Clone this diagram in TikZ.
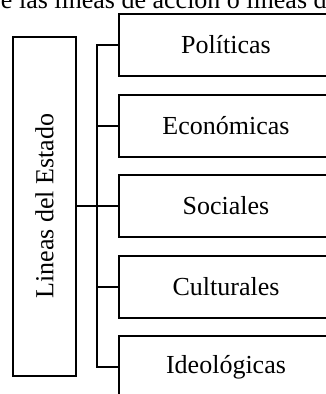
\documentclass[tikz,border=0pt]{standalone}
\usepackage{fontspec}
\setmainfont{Liberation Serif}
\usetikzlibrary{positioning, calc}

\tikzset{
  linea/.style = {draw, line width=2pt, inner sep=0pt, outer sep=0pt,
    minimum width=214pt, minimum height=62pt},
}

\begin{document}
\begin{tikzpicture}[x=1pt, y=1pt, line width=2pt,
  font=\fontsize{26pt}{31pt}\selectfont, node distance=18.5pt]

\useasboundingbox (0,0) rectangle (326,-394);
\clip (0,0) rectangle (326,-394);

\node[anchor=base west, inner sep=0pt] (texto) at (0,-8.5) {e las líneas de acción o líneas d};

\node[linea] (pol) at (226,-45) {Políticas};
\node[linea, below = of pol] (eco) {Económicas};
\node[linea, below = of eco] (soc) {Sociales};
\node[linea, below = of soc] (cul) {Culturales};
\node[linea, below = of cul] (ide) {Ideológicas};

\node[draw, inner sep=0pt, outer sep=0pt, minimum width=63pt,
  minimum height=339pt, left = 43pt of soc] (estado) {\rotatebox{90}{Lineas del Estado}};

\coordinate[left = 22pt of pol.west] (b1);

\draw (pol.west) -- (b1) |- (ide.west);
\draw (estado.east) -- (estado.east -| b1);
\draw (eco.west) -- (eco.west -| b1);
\draw (soc.west) -- (soc.west -| b1);
\draw (cul.west) -- (cul.west -| b1);

\end{tikzpicture}
\end{document}
